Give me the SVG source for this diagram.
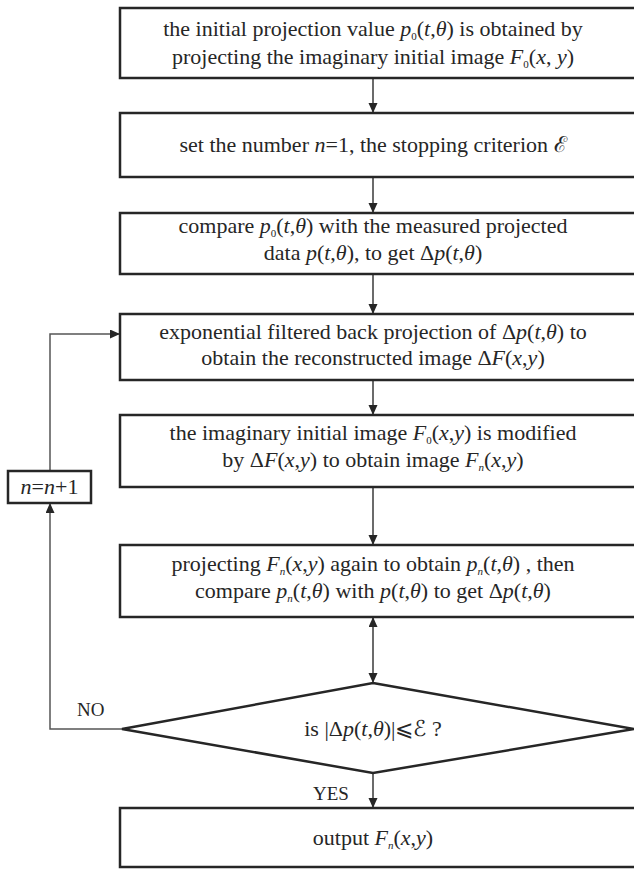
<svg xmlns="http://www.w3.org/2000/svg" width="634" height="869" viewBox="0 0 634 869">
<style>
.box{fill:#fff;stroke:#262626;stroke-width:2.5}
.ln{fill:none;stroke:#3a3a3a;stroke-width:1.5}
.fb{fill:none;stroke:#555;stroke-width:1.5}
text{font-family:"Liberation Serif","DejaVu Serif",serif;font-size:22px;fill:#262626}
.c{text-anchor:middle}
.i{font-style:italic}
.s{font-size:11px}
</style>
<defs>
<marker id="ah" markerUnits="userSpaceOnUse" markerWidth="10" markerHeight="10" refX="10" refY="4.5" orient="auto-start-reverse">
<path d="M0,0 L10,4.5 L0,9 z" fill="#262626"/>
</marker>
</defs>
<g id="connectors">
<line class="ln" x1="373" y1="78" x2="373" y2="113" marker-end="url(#ah)"/>
<line class="ln" x1="373" y1="177" x2="373" y2="213" marker-end="url(#ah)"/>
<line class="ln" x1="373" y1="274" x2="373" y2="314" marker-end="url(#ah)"/>
<line class="ln" x1="373" y1="380" x2="373" y2="415" marker-end="url(#ah)"/>
<line class="ln" x1="373" y1="487" x2="373" y2="545" marker-end="url(#ah)"/>
<line class="ln" x1="373" y1="617" x2="373" y2="683" marker-start="url(#ah)" marker-end="url(#ah)"/>
<line class="ln" x1="373" y1="773" x2="373" y2="808" marker-end="url(#ah)"/>
<polyline class="fb" points="122,729 50,729 50,503" marker-end="url(#ah)"/>
<polyline class="fb" points="50,471 50,334 120,334" marker-end="url(#ah)"/>
<text x="77" y="716" style="font-size:19px">NO</text>
<text x="313" y="800" style="font-size:19px">YES</text>
</g>
<g id="n1">
<rect class="box" x="120" y="8" width="520" height="70"/>
<text class="c" x="373" y="36">the initial projection value <tspan class="i">p</tspan><tspan class="s" dy="4">0</tspan><tspan dy="-4">(</tspan><tspan class="i">t</tspan>,<tspan class="i">θ</tspan>) is obtained by</text>
<text class="c" x="373" y="64">projecting the imaginary initial image <tspan class="i">F</tspan><tspan class="s" dy="4">0</tspan><tspan dy="-4">(</tspan><tspan class="i">x</tspan>, <tspan class="i">y</tspan>)</text>
</g>
<g id="n2">
<rect class="box" x="120" y="113" width="520" height="64"/>
<text class="c" x="373" y="152">set the number <tspan class="i">n</tspan>=1, the stopping criterion ℰ</text>
</g>
<g id="n3">
<rect class="box" x="120" y="213" width="520" height="61"/>
<text class="c" x="373" y="233">compare <tspan class="i">p</tspan><tspan class="s" dy="4">0</tspan><tspan dy="-4">(</tspan><tspan class="i">t</tspan>,<tspan class="i">θ</tspan>) with the measured projected</text>
<text class="c" x="373" y="260">data <tspan class="i">p</tspan>(<tspan class="i">t</tspan>,<tspan class="i">θ</tspan>), to get Δ<tspan class="i">p</tspan>(<tspan class="i">t</tspan>,<tspan class="i">θ</tspan>)</text>
</g>
<g id="n4">
<rect class="box" x="120" y="314" width="520" height="66"/>
<text class="c" x="373" y="339">exponential filtered back projection of Δ<tspan class="i">p</tspan>(<tspan class="i">t</tspan>,<tspan class="i">θ</tspan>) to</text>
<text class="c" x="373" y="365">obtain the reconstructed image Δ<tspan class="i">F</tspan>(<tspan class="i">x</tspan>,<tspan class="i">y</tspan>)</text>
</g>
<g id="n5">
<rect class="box" x="120" y="415" width="520" height="72"/>
<text class="c" x="373" y="440">the imaginary initial image <tspan class="i">F</tspan><tspan class="s" dy="4">0</tspan><tspan dy="-4">(</tspan><tspan class="i">x</tspan>,<tspan class="i">y</tspan>) is modified</text>
<text class="c" x="373" y="467">by Δ<tspan class="i">F</tspan>(<tspan class="i">x</tspan>,<tspan class="i">y</tspan>) to obtain image <tspan class="i">F</tspan><tspan class="s i" dy="4">n</tspan><tspan dy="-4">(</tspan><tspan class="i">x</tspan>,<tspan class="i">y</tspan>)</text>
</g>
<g id="n6">
<rect class="box" x="120" y="545" width="520" height="72"/>
<text class="c" x="373" y="571">projecting <tspan class="i">F</tspan><tspan class="s i" dy="4">n</tspan><tspan dy="-4">(</tspan><tspan class="i">x</tspan>,<tspan class="i">y</tspan>) again to obtain <tspan class="i">p</tspan><tspan class="s i" dy="4">n</tspan><tspan dy="-4">(</tspan><tspan class="i">t</tspan>,<tspan class="i">θ</tspan>) , then</text>
<text class="c" x="373" y="598">compare <tspan class="i">p</tspan><tspan class="s i" dy="4">n</tspan><tspan dy="-4">(</tspan><tspan class="i">t</tspan>,<tspan class="i">θ</tspan>) with <tspan class="i">p</tspan>(<tspan class="i">t</tspan>,<tspan class="i">θ</tspan>) to get Δ<tspan class="i">p</tspan>(<tspan class="i">t</tspan>,<tspan class="i">θ</tspan>)</text>
</g>
<g id="decision">
<polygon class="box" points="373,683 634,729 373,773 122,729"/>
<text class="c" x="373" y="736">is |Δ<tspan class="i">p</tspan>(<tspan class="i">t</tspan>,<tspan class="i">θ</tspan>)|⩽ℰ ?</text>
</g>
<g id="n7">
<rect class="box" x="120" y="808" width="520" height="59"/>
<text class="c" x="373" y="845">output <tspan class="i">F</tspan><tspan class="s i" dy="4">n</tspan><tspan dy="-4">(</tspan><tspan class="i">x</tspan>,<tspan class="i">y</tspan>)</text>
</g>
<g id="inc">
<rect class="box" x="8" y="471" width="83" height="32"/>
<text class="c" x="49.5" y="494"><tspan class="i">n</tspan>=<tspan class="i">n</tspan>+1</text>
</g>
</svg>
